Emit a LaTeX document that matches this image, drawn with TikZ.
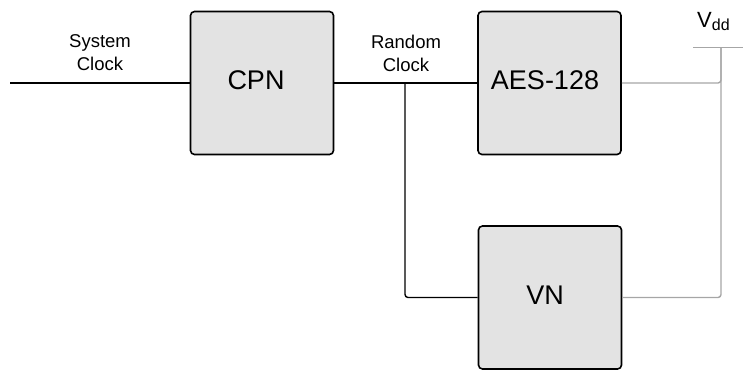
\documentclass[tikz,border=0pt]{standalone}
\usepackage{fontspec}
\setmainfont{Liberation Sans}
\begin{document}
\begin{tikzpicture}[x=1pt,y=-1pt,
  block/.style={draw=black, line width=1.6pt, fill=black!11, rounded corners=4pt,
    minimum width=143pt, minimum height=143pt, inner sep=0pt},
  bigtext/.style={font=\fontsize{27}{32}\selectfont, inner sep=0pt},
  smalltext/.style={font=\fontsize{18.5}{23}\selectfont, align=center, inner sep=0pt},
  sig/.style={draw=black, line width=1.4pt, rounded corners=3pt},
  pwr/.style={draw=black!35, line width=1.4pt, rounded corners=3pt}]
\useasboundingbox (0,0) rectangle (743,370);

% functional blocks
\node[block] (cpn) at (262,83) {};
\node[block] (aes) at (549.5,83) {};
\node[block] (vn)  at (550,297.5) {};
\node[bigtext] (cpnlabel) at (256,80) {CPN};
\node[bigtext] (aeslabel) at (545,80) {AES-128};
\node[bigtext] (vnlabel)  at (545,295) {VN};

% clock labels
\node[smalltext] (sysclk) at (100,53) {System\\Clock};
\node[smalltext] (rndclk) at (406,53) {Random\\Clock};

% supply label and rail
\node[inner sep=0pt, anchor=base west] (vdd) at (697,27)
  {\fontsize{22}{26}\selectfont V\raisebox{-3pt}{\fontsize{16}{18}\selectfont dd}};
\coordinate (railL) at (693,47.5);
\coordinate (railR) at (743,47.5);
\coordinate (railTop) at (721,47.5);
\coordinate (clkin) at (10,83);
\coordinate (tap) at (405,83);

% clock wiring
\draw[sig] (clkin) -- (cpn.west);
\draw[sig] (cpn.east) -- (aes.west);
\draw[sig] (tap) |- (vn.west);

% supply wiring
\draw[draw=black!35, line width=1.4pt] (railL) -- (railR);
\draw[pwr] (aes.east) -| (railTop);
\draw[pwr] (railTop) |- (vn.east);
\end{tikzpicture}
\end{document}
